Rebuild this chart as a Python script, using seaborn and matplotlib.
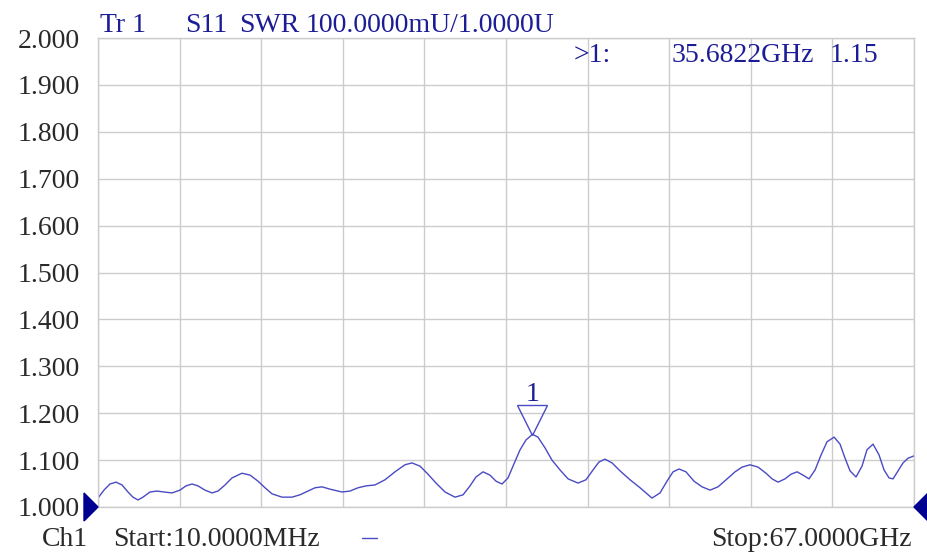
import matplotlib
matplotlib.use("Agg")
import matplotlib.pyplot as plt
import matplotlib.transforms as mtransforms
from matplotlib.patches import Polygon
import numpy as np
import pandas as pd
import seaborn as sns

# S11 SWR trace (frequency in GHz)
freq_ghz = [
    0.01, 0.50, 0.99, 1.49, 1.98, 2.47, 2.88, 3.29, 3.70, 4.28,
    4.85, 5.43, 6.09, 6.74, 7.23, 7.73, 8.22, 8.79, 9.37, 9.86,
    10.44, 11.01, 11.83, 12.49, 13.15, 13.72, 14.30, 15.12, 15.94, 16.59,
    17.25, 17.83, 18.40, 19.06, 20.04, 20.70, 21.36, 22.01, 22.75, 23.57,
    24.39, 25.21, 25.79, 26.45, 27.10, 27.76, 28.50, 29.32, 29.98, 30.55,
    31.04, 31.62, 32.19, 32.69, 33.18, 33.67, 34.16, 34.66, 35.15, 35.68,
    36.13, 36.71, 37.28, 37.94, 38.60, 39.42, 40.07, 40.65, 41.14, 41.63,
    42.21, 42.87, 43.69, 44.51, 45.49, 46.15, 46.72, 47.22, 47.71, 48.28,
    48.94, 49.60, 50.26, 50.91, 51.57, 52.31, 52.88, 53.54, 54.20, 54.85,
    55.35, 55.84, 56.41, 56.91, 57.40, 57.89, 58.38, 58.88, 59.37, 59.86,
    60.44, 60.93, 61.34, 61.75, 62.24, 62.73, 63.14, 63.64, 64.13, 64.54,
    64.95, 65.28, 65.69, 66.10, 66.51, 67.00,
]
swr = [
    1.019, 1.036, 1.049, 1.053, 1.047, 1.032, 1.021, 1.015, 1.021, 1.032,
    1.034, 1.032, 1.030, 1.036, 1.045, 1.049, 1.045, 1.036, 1.030, 1.034,
    1.047, 1.062, 1.072, 1.068, 1.055, 1.041, 1.028, 1.021, 1.021, 1.026,
    1.034, 1.041, 1.043, 1.038, 1.032, 1.034, 1.041, 1.045, 1.047, 1.058,
    1.075, 1.090, 1.094, 1.087, 1.070, 1.051, 1.032, 1.021, 1.026, 1.045,
    1.064, 1.075, 1.068, 1.055, 1.049, 1.062, 1.092, 1.122, 1.143, 1.155,
    1.149, 1.126, 1.100, 1.079, 1.060, 1.051, 1.058, 1.079, 1.096, 1.102,
    1.094, 1.077, 1.058, 1.041, 1.019, 1.030, 1.055, 1.075, 1.081, 1.075,
    1.055, 1.043, 1.036, 1.043, 1.058, 1.075, 1.085, 1.090, 1.085, 1.072,
    1.060, 1.053, 1.060, 1.070, 1.075, 1.068, 1.060, 1.079, 1.111, 1.139,
    1.149, 1.134, 1.104, 1.077, 1.064, 1.087, 1.122, 1.134, 1.111, 1.079,
    1.062, 1.060, 1.077, 1.094, 1.104, 1.109,
]

start_ghz = 0.01
stop_ghz = 67.0
marker_freq = 35.68
marker_swr = 1.155
y_ticks = [1.0, 1.1, 1.2, 1.3, 1.4, 1.5, 1.6, 1.7, 1.8, 1.9, 2.0]

TRACE = "#4a4ac4"
HEAD = "#1c1c96"
LABEL = "#2a2a2a"
GRID = "#cccccc"
SERIF = ["Liberation Serif", "DejaVu Serif"]
FS = 20

sns.set_style("white")
plt.rcParams["font.family"] = SERIF

W, H = 928, 552
fig = plt.figure(figsize=(W / 100, H / 100), dpi=100)
ax = fig.add_axes([98 / W, 1 - 507 / H, 816 / W, 469 / H])

df = pd.DataFrame({"freq": freq_ghz, "swr": swr})
sns.lineplot(data=df, x="freq", y="swr", ax=ax, color=TRACE, lw=1.0,
             solid_joinstyle="round")

ax.set_xlim(start_ghz, stop_ghz)
ax.set_ylim(1.0, 2.0)
ax.set_xticks(np.linspace(start_ghz, stop_ghz, 11))
ax.set_yticks(y_ticks)
ax.set_xticklabels([])
ax.set_yticklabels([f"{v:.3f}" for v in y_ticks], fontsize=FS, color=LABEL)
ax.tick_params(length=0, pad=13)
ax.set_xlabel("")
ax.set_ylabel("")
ax.grid(True, color=GRID, lw=1.0)
for s in ax.spines.values():
    s.set_color(GRID)
    s.set_linewidth(1.0)

# marker 1: hollow triangle with its tip on the trace
off = mtransforms.ScaledTranslation(0, 10.5 / 72, fig.dpi_scale_trans)
ax.plot([marker_freq], [marker_swr], marker="v", ms=21, mfc="none",
        mec=TRACE, mew=1.0, transform=ax.transData + off, clip_on=False)
ax.annotate("1", (marker_freq, marker_swr), xytext=(0, 20),
            textcoords="offset points", ha="center", va="bottom",
            fontsize=FS, color=HEAD)


def px(x, y):
    return x / W, 1 - y / H


# header
fig.text(*px(100, 26), "Tr 1", fontsize=FS, color=HEAD, va="center")
fig.text(*px(185, 26), "S11", fontsize=FS, color=HEAD, va="center")
fig.text(*px(239, 26), "SWR", fontsize=FS, color=HEAD, va="center")
fig.text(*px(306, 26), "100.0000mU/1.0000U", fontsize=FS, color=HEAD, va="center")
fig.text(*px(574, 55), ">1:", fontsize=FS, color=HEAD, va="center")
fig.text(*px(672, 55), f"{marker_freq + 0.0022:.4f}GHz", fontsize=FS, color=HEAD, va="center")
fig.text(*px(830, 55), "1.15", fontsize=FS, color=HEAD, va="center")

# footer
fig.text(*px(42, 540), "Ch1", fontsize=FS, color=LABEL, va="center")
fig.text(*px(113, 540), "Start:10.0000MHz", fontsize=FS, color=LABEL, va="center")
fig.text(*px(912, 540), "Stop:67.0000GHz", fontsize=FS, color=LABEL, va="center", ha="right")
fig.lines.append(plt.Line2D([362 / W, 377 / W], [1 - 538 / H, 1 - 538 / H],
                            transform=fig.transFigure, color=TRACE, lw=1.0))

# reference level arrows on both edges
fig.patches.append(Polygon([px(84, 493), px(98, 507), px(84, 521)], closed=True,
                           transform=fig.transFigure, color="#000090"))
fig.patches.append(Polygon([px(928, 493), px(914, 507), px(928, 521)], closed=True,
                           transform=fig.transFigure, color="#000090"))

fig.savefig("out.png", dpi=100)
